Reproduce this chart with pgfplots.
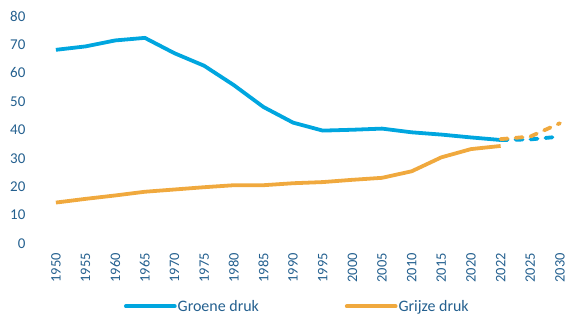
\documentclass[border=0pt]{standalone}
\usepackage{fontspec}
\setmainfont{Carlito}
\usepackage{pgfplots}
\pgfplotsset{compat=1.18}
\definecolor{cblue}{HTML}{00A6DF}
\definecolor{corange}{HTML}{F0A93E}
\definecolor{ctext}{HTML}{24608F}
\begin{document}
\begin{tikzpicture}
\path (0,0) rectangle (568pt,315pt);
\begin{axis}[
  at={(56pt,71pt)}, anchor=south west,
  scale only axis, width=505pt, height=228pt,
  xmin=0, xmax=17, ymin=0, ymax=80,
  ytick={0,10,...,80},
  xtick={0,...,17},
  xticklabels={1950,1955,1960,1965,1970,1975,1980,1985,1990,1995,2000,2005,2010,2015,2020,2022,2025,2030},
  xticklabel style={rotate=90, anchor=east, font=\fontsize{14.5}{16}\selectfont, text=ctext},
  xticklabel shift=6pt,
  yticklabel style={font=\fontsize{15}{17}\selectfont, text=ctext},
  yticklabel shift=27pt,
  /pgf/number format/assume math mode=true,
  axis line style={draw=none},
  tick style={draw=none},
  clip=false,
  legend style={at={(0.1347,-0.276)}, anchor=west, draw=none, fill=none, inner sep=0pt,
    nodes={inner xsep=1pt},
    font=\fontsize{16}{18}\selectfont, text=ctext, legend columns=2,
    /tikz/every even column/.append style={column sep=85pt}},
  legend cell align=left,
  legend image code/.code={\draw[#1, line width=3.8pt, line cap=round] (0pt,0pt) -- (49pt,0pt);},
]
\addplot[cblue, line width=3.8pt, line join=round] coordinates {
(0,68.1) (1,69.3) (2,71.4) (3,72.3) (4,66.9) (5,62.5) (6,55.7) (7,48) (8,42.5) (9,39.7) (10,40) (11,40.4) (12,39.1) (13,38.3) (14,37.3) (15,36.4)};
\addlegendentry{Groene druk}
\addplot[corange, line width=3.8pt, line join=round] coordinates {
(0,14.4) (1,15.7) (2,16.9) (3,18.2) (4,19) (5,19.8) (6,20.5) (7,20.5) (8,21.2) (9,21.6) (10,22.4) (11,23.1) (12,25.4) (13,30.3) (14,33.2) (15,34.3)};
\addlegendentry{Grijze druk}
\addplot[cblue, line width=3.8pt, line cap=round, dash pattern=on 7pt off 8pt, forget plot] coordinates {
(15,36.4) (16,36.6) (17,37.6)};
\addplot[corange, line width=3.8pt, line cap=round, dash pattern=on 7pt off 8pt, forget plot] coordinates {
(15,36.7) (16,37.6) (17,42.3)};
\end{axis}
\end{tikzpicture}
\end{document}
